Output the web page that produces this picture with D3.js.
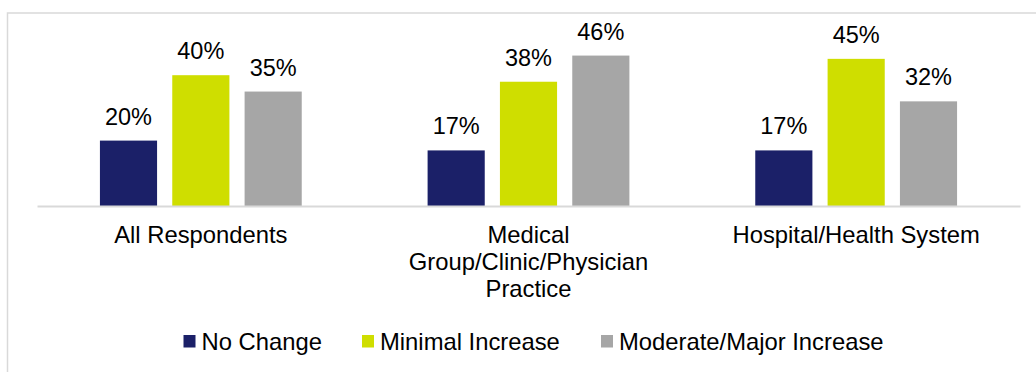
<!DOCTYPE html>
<html>
<head>
<meta charset="utf-8">
<script src="https://cdn.jsdelivr.net/npm/d3@7"></script>
<style>
  html, body { margin: 0; padding: 0; background: #ffffff; }
  svg { display: block; }
  text { font-family: "Liberation Sans", Arial, sans-serif; fill: #000000; }
</style>
</head>
<body>
<svg id="chart" width="1036" height="372"></svg>
<script>
// ---- data ----
const categories = [
  ["All Respondents"],
  ["Medical", "Group/Clinic/Physician", "Practice"],
  ["Hospital/Health System"]
];
const seriesNames = ["No Change", "Minimal Increase", "Moderate/Major Increase"];
const noChange = [20, 17, 17];
const minimalIncrease = [40, 38, 45];
const moderateMajorIncrease = [35, 46, 32];
const seriesColors = ["#1b2068", "#cfde00", "#a6a6a6"];

const seriesValues = [noChange, minimalIncrease, moderateMajorIncrease];
const catKeys = categories.map(c => c.join(" "));

// ---- layout ----
const svg = d3.select("#chart");
const baseY = 206;

// frame
svg.append("rect")
  .attr("x", 7.5).attr("y", 13)
  .attr("width", 1100).attr("height", 500)
  .attr("fill", "none")
  .attr("stroke", "#d9d9d9")
  .attr("stroke-width", 1.5);

const x0 = d3.scaleBand().domain(catKeys).range([37, 1020]).padding(0);
const x1 = d3.scaleBand().domain(seriesNames).range([0, x0.bandwidth()])
  .paddingInner(0.21).paddingOuter(0.87);
const y = d3.scaleLinear().domain([0, 50]).range([baseY, 42.5]);

const rows = [];
catKeys.forEach((c, i) => {
  seriesNames.forEach((s, j) => {
    rows.push({ cat: c, series: s, value: seriesValues[j][i], color: seriesColors[j] });
  });
});

// bars
svg.append("g").selectAll("rect")
  .data(rows)
  .join("rect")
  .attr("x", d => x0(d.cat) + x1(d.series))
  .attr("y", d => y(d.value))
  .attr("width", x1.bandwidth())
  .attr("height", d => baseY - y(d.value))
  .attr("fill", d => d.color);

// value labels
svg.append("g").selectAll("text")
  .data(rows)
  .join("text")
  .attr("x", d => x0(d.cat) + x1(d.series) + x1.bandwidth() / 2)
  .attr("y", d => y(d.value) - 16)
  .attr("text-anchor", "middle")
  .style("font-size", "23.5px")
  .text(d => d.value + "%");

// baseline axis
const xAxis = d3.axisBottom(x0).tickSize(0).tickFormat("");
const axG = svg.append("g").attr("transform", `translate(0,${baseY})`).call(xAxis);
axG.select(".domain").attr("stroke", "#d9d9d9").attr("stroke-width", 2);

// category labels
const catG = svg.append("g").selectAll("text")
  .data(categories)
  .join("text")
  .attr("text-anchor", "middle")
  .style("font-size", "23.8px")
  .attr("transform", (d, i) => `translate(${x0(catKeys[i]) + x0.bandwidth() / 2},242.5)`);
catG.selectAll("tspan")
  .data(d => d)
  .join("tspan")
  .attr("x", 0)
  .attr("dy", (d, i) => i === 0 ? 0 : 27.3)
  .text(d => d);

// legend
const legendX = [183.5, 362, 601];
const legend = svg.append("g").selectAll("g")
  .data(seriesNames)
  .join("g")
  .attr("transform", (d, i) => `translate(${legendX[i]},335)`);
legend.append("rect")
  .attr("width", 12).attr("height", 12.5)
  .attr("fill", (d, i) => seriesColors[i]);
legend.append("text")
  .attr("x", 18).attr("y", 15)
  .style("font-size", "23.8px")
  .text(d => d);
</script>
</body>
</html>
